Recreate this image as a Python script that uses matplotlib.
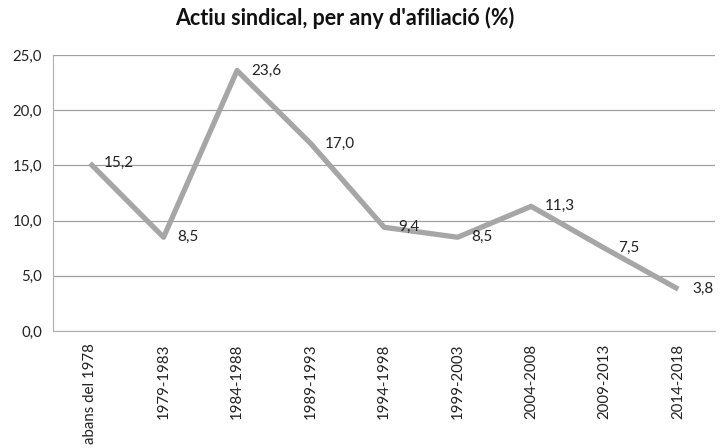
import matplotlib
matplotlib.use("Agg")
import matplotlib.pyplot as plt

plt.rcParams['font.family'] = ['Lato', 'DejaVu Sans']

periods = ["abans del 1978", "1979-1983", "1984-1988", "1989-1993", "1994-1998",
           "1999-2003", "2004-2008", "2009-2013", "2014-2018"]
values = [15.2, 8.5, 23.6, 17.0, 9.4, 8.5, 11.3, 7.5, 3.8]
yticks = [0, 5, 10, 15, 20, 25]

def fmt(v):
    return f"{v:.1f}".replace(".", ",")

fig = plt.figure(figsize=(7.2, 4.48), dpi=100)
ax = fig.add_axes([0.074, 0.261, 0.919, 0.616])

x = list(range(len(periods)))
ax.plot(x, values, color='#A6A6A6', linewidth=3.8, solid_capstyle='butt', zorder=3)
for xi, v in zip(x, values):
    ax.annotate(fmt(v), (xi, v), xytext=(10, 0), textcoords='offset points',
                ha='left', va='center', fontsize=11, color='#222222', zorder=4)

ax.set_xlim(-0.5, len(periods) - 0.5)
ax.set_ylim(0, 25)
ax.set_yticks(yticks)
ax.set_yticklabels([fmt(t) for t in yticks], fontsize=10.8, color='#222222')
ax.set_xticks(x)
ax.set_xticklabels(periods, rotation=90, fontsize=10.8, color='#222222')
ax.tick_params(axis='both', length=0, pad=8)
ax.tick_params(axis='x', pad=9)
ax.yaxis.grid(True, color='#A0A0A0', linewidth=0.9)
ax.set_axisbelow(True)
for s in ['top', 'right']:
    ax.spines[s].set_visible(False)
ax.spines['left'].set_color('#B0B0B0')
ax.spines['bottom'].set_color('#B0B0B0')

fig.suptitle("Actiu sindical, per any d'afiliació (%)", fontsize=15.5, fontweight='bold',
             x=0.479, y=0.985, color='#111111')

fig.savefig("out.png", dpi=100)
